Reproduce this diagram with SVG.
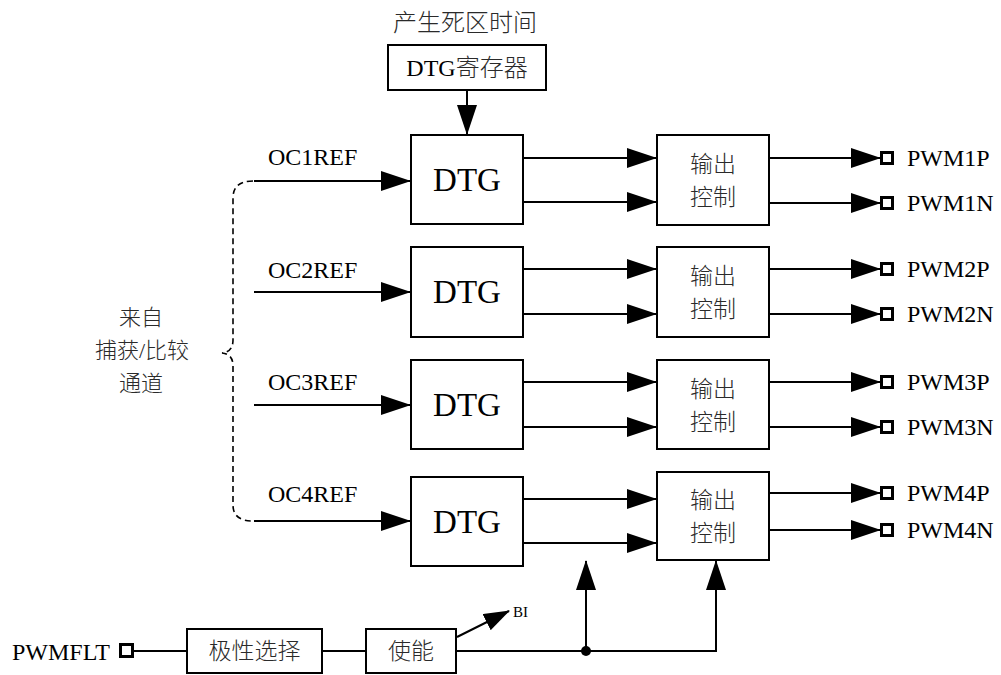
<svg xmlns="http://www.w3.org/2000/svg" width="1001" height="675" viewBox="0 0 1001 675">
<style>
.box{fill:#fff;stroke:#000;stroke-width:2}
.ln{fill:none;stroke:#000;stroke-width:2}
.dash{fill:none;stroke:#000;stroke-width:1.6;stroke-dasharray:6 4}
.port{fill:#fff;stroke:#000;stroke-width:3}
.lat{font-family:"Liberation Serif","Times New Roman",serif;fill:#000}
.cjk{font-family:"Liberation Serif","Noto Sans CJK SC",sans-serif;fill:#2a2a2a;font-weight:300}
.sm{font-size:24px}
.big{font-size:33px}
</style>
<defs>
<marker id="ah" markerUnits="userSpaceOnUse" viewBox="0 0 30 20" markerWidth="30" markerHeight="20" refX="29" refY="10" orient="auto">
<path d="M0,0 L30,10 L0,20 z" fill="#000"/>
</marker>
<marker id="ahs" markerUnits="userSpaceOnUse" viewBox="0 0 26 18" markerWidth="26" markerHeight="18" refX="25" refY="9" orient="auto">
<path d="M0,0 L26,9 L0,18 z" fill="#000"/>
</marker>
</defs>
<rect width="1001" height="675" fill="#fff"/>

<g id="connectors">
<path class="ln" d="M467,90 V134" marker-end="url(#ah)"/>
<path class="ln" d="M254,181 H410" marker-end="url(#ah)"/>
<path class="ln" d="M254,292 H410" marker-end="url(#ah)"/>
<path class="ln" d="M254,405 H410" marker-end="url(#ah)"/>
<path class="ln" d="M254,521 H410" marker-end="url(#ah)"/>
<path class="ln" d="M523,158 H656" marker-end="url(#ah)"/>
<path class="ln" d="M523,202 H656" marker-end="url(#ah)"/>
<path class="ln" d="M523,269 H656" marker-end="url(#ah)"/>
<path class="ln" d="M523,314 H656" marker-end="url(#ah)"/>
<path class="ln" d="M523,382 H656" marker-end="url(#ah)"/>
<path class="ln" d="M523,427 H656" marker-end="url(#ah)"/>
<path class="ln" d="M523,499 H656" marker-end="url(#ah)"/>
<path class="ln" d="M523,543 H656" marker-end="url(#ah)"/>
<path class="ln" d="M769,158 H880" marker-end="url(#ah)"/>
<path class="ln" d="M769,203 H880" marker-end="url(#ah)"/>
<path class="ln" d="M769,269 H880" marker-end="url(#ah)"/>
<path class="ln" d="M769,314 H880" marker-end="url(#ah)"/>
<path class="ln" d="M769,382 H880" marker-end="url(#ah)"/>
<path class="ln" d="M769,427 H880" marker-end="url(#ah)"/>
<path class="ln" d="M769,493 H880" marker-end="url(#ah)"/>
<path class="ln" d="M769,530 H880" marker-end="url(#ah)"/>
<path class="dash" d="M253,181 Q233,181 233,198 V340 Q233,352 222,353 Q233,354 233,366 V505 Q233,521 253,521"/>
<path class="ln" d="M134,651 H187"/>
<path class="ln" d="M322,651 H366"/>
<path class="ln" d="M456,651 H716 V561" marker-end="url(#ah)"/>
<path class="ln" d="M586,651 V561" marker-end="url(#ah)"/>
<circle cx="586" cy="651" r="5" fill="#000"/>
<path class="ln" d="M457,637 L509,611" marker-end="url(#ahs)"/>
</g>

<g id="title"><text class="cjk" x="465" y="31" font-size="24" text-anchor="middle">产生死区时间</text></g>
<g id="dtg-reg">
<rect class="box" x="388" y="45" width="158" height="45"/>
<text class="lat" x="467" y="76" font-size="24" text-anchor="middle">DTG<tspan class="cjk">寄存器</tspan></text>
</g>

<g id="dtg1"><rect class="box" x="411" y="135" width="112" height="89"/><text class="lat big" x="467" y="191" text-anchor="middle">DTG</text></g>
<g id="dtg2"><rect class="box" x="411" y="247" width="112" height="90"/><text class="lat big" x="467" y="303" text-anchor="middle">DTG</text></g>
<g id="dtg3"><rect class="box" x="411" y="360" width="112" height="89"/><text class="lat big" x="467" y="416" text-anchor="middle">DTG</text></g>
<g id="dtg4"><rect class="box" x="411" y="477" width="112" height="89"/><text class="lat big" x="467" y="533" text-anchor="middle">DTG</text></g>

<g id="out1"><rect class="box" x="657" y="135" width="112" height="90"/><text class="cjk" x="713" y="172" font-size="23" text-anchor="middle">输出</text><text class="cjk" x="713" y="205" font-size="23" text-anchor="middle">控制</text></g>
<g id="out2"><rect class="box" x="657" y="247" width="112" height="90"/><text class="cjk" x="713" y="284" font-size="23" text-anchor="middle">输出</text><text class="cjk" x="713" y="317" font-size="23" text-anchor="middle">控制</text></g>
<g id="out3"><rect class="box" x="657" y="360" width="112" height="89"/><text class="cjk" x="713" y="397" font-size="23" text-anchor="middle">输出</text><text class="cjk" x="713" y="430" font-size="23" text-anchor="middle">控制</text></g>
<g id="out4"><rect class="box" x="657" y="472" width="112" height="88"/><text class="cjk" x="713" y="508" font-size="23" text-anchor="middle">输出</text><text class="cjk" x="713" y="541" font-size="23" text-anchor="middle">控制</text></g>

<g id="in-labels">
<text class="lat sm" x="268" y="165">OC1REF</text>
<text class="lat sm" x="268" y="278">OC2REF</text>
<text class="lat sm" x="268" y="390">OC3REF</text>
<text class="lat sm" x="268" y="502">OC4REF</text>
</g>

<g id="src-label">
<text class="cjk" x="141" y="325" font-size="22" text-anchor="middle">来自</text>
<text class="cjk" x="142" y="358" font-size="22" text-anchor="middle">捕获/比较</text>
<text class="cjk" x="141" y="391" font-size="22" text-anchor="middle">通道</text>
</g>

<g id="ports">
<rect class="port" x="881.5" y="152.5" width="11" height="11"/><text class="lat sm" x="907" y="166">PWM1P</text>
<rect class="port" x="881.5" y="197.5" width="11" height="11"/><text class="lat sm" x="907" y="211">PWM1N</text>
<rect class="port" x="881.5" y="263.5" width="11" height="11"/><text class="lat sm" x="907" y="277">PWM2P</text>
<rect class="port" x="881.5" y="308.5" width="11" height="11"/><text class="lat sm" x="907" y="322">PWM2N</text>
<rect class="port" x="881.5" y="376.5" width="11" height="11"/><text class="lat sm" x="907" y="390">PWM3P</text>
<rect class="port" x="881.5" y="421.5" width="11" height="11"/><text class="lat sm" x="907" y="435">PWM3N</text>
<rect class="port" x="881.5" y="487.5" width="11" height="11"/><text class="lat sm" x="907" y="501">PWM4P</text>
<rect class="port" x="881.5" y="524.5" width="11" height="11"/><text class="lat sm" x="907" y="538">PWM4N</text>
</g>

<g id="pwmflt">
<text class="lat sm" x="12" y="660">PWMFLT</text>
<rect class="port" x="120.5" y="644.5" width="12" height="12"/>
</g>
<g id="polarity"><rect class="box" x="187" y="629" width="135" height="44"/><text class="cjk" x="254.5" y="659" font-size="23" text-anchor="middle">极性选择</text></g>
<g id="enable"><rect class="box" x="366" y="629" width="90" height="44"/><text class="cjk" x="411" y="659" font-size="23" text-anchor="middle">使能</text></g>
<g id="bi"><text class="lat" x="513" y="617" font-size="15">BI</text></g>
</svg>
